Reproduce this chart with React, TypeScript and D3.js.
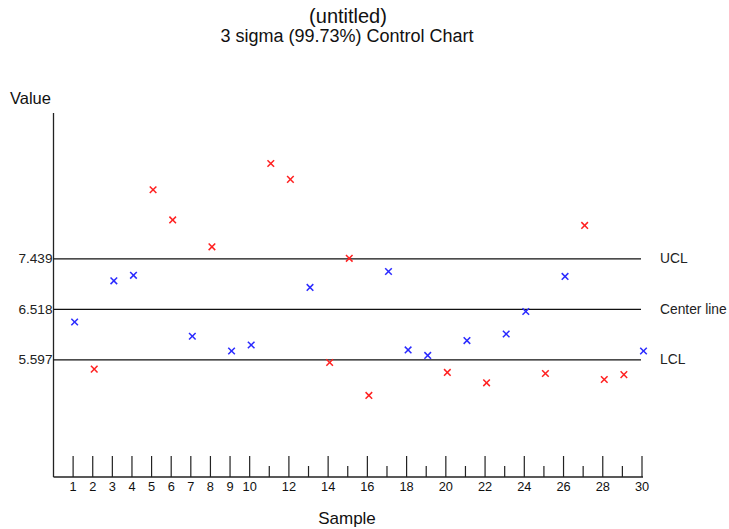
import React from 'react';
import * as d3 from 'd3';

// sample numbers and measured values
const samples = d3.range(1, 31);
const values = [
  6.29, 5.43, 7.04, 7.14, 8.70, 8.15, 6.03, 7.66, 5.76, 5.87,
  9.18, 8.89, 6.92, 5.55, 7.45, 4.95, 7.21, 5.78, 5.68, 5.37,
  5.95, 5.18, 6.07, 6.48, 5.35, 7.12, 8.05, 5.24, 5.33, 5.76,
];
// which samples are flagged (red) vs normal (blue)
const flagged = [
  0, 1, 0, 0, 1, 1, 0, 1, 0, 0,
  1, 1, 0, 1, 1, 1, 0, 0, 0, 1,
  0, 1, 0, 0, 1, 0, 1, 1, 1, 0,
];
const limitNames = ['UCL', 'Center line', 'LCL'];
const limitValues = [7.439, 6.518, 5.597];
const labelledTicks = [1, 2, 3, 4, 5, 6, 7, 8, 9, 10, 12, 14, 16, 18, 20, 22, 24, 26, 28, 30];
const yDomain = [3.463, 10.1];

export default function App() {
  const width = 729;
  const height = 529;
  const left = 53.5, right = 642, top = 113, bottom = 477;

  const x = d3.scaleLinear().domain([0, 30]).range([left, right]);
  const y = d3.scaleLinear().domain(yDomain).range([bottom, top]);

  const font = 'Arial, "Liberation Sans", sans-serif';
  const s = 3.3;

  return (
    <svg width={width} height={height} style={{ position: 'absolute', left: 0, top: 0 }} fontFamily={font}>
      <rect width={width} height={height} fill="#fff" />
      <text x={348} y={23} textAnchor="middle" fontSize={20} fill="#111">(untitled)</text>
      <text x={347} y={42} textAnchor="middle" fontSize={18} fill="#111">3 sigma (99.73%) Control Chart</text>
      <text x={10} y={104} fontSize={16.5} fill="#111">Value</text>
      <text x={347} y={524} textAnchor="middle" fontSize={17} fill="#111">Sample</text>

      {/* axes */}
      <line x1={left} x2={left} y1={top} y2={bottom} stroke="#222" strokeWidth={1.3} />
      <line x1={left} x2={right + 1} y1={bottom} y2={bottom} stroke="#222" strokeWidth={1.3} />

      {samples.map(d => {
        const major = labelledTicks.includes(d);
        return (
          <g key={d}>
            <line x1={x(d)} x2={x(d)} y1={bottom} y2={bottom - (major ? 21 : 11)} stroke="#222" strokeWidth={1.2} />
            {major && (
              <text x={x(d)} y={bottom + 14} textAnchor="middle" fontSize={12.8} fill="#111">{d}</text>
            )}
          </g>
        );
      })}

      {/* control limits */}
      {limitValues.map((v, i) => (
        <g key={limitNames[i]}>
          <line x1={left} x2={right - 1} y1={y(v)} y2={y(v)} stroke="#111" strokeWidth={1.3} />
          <text x={left - 1} y={y(v) + 4.5} textAnchor="end" fontSize={13.6} fill="#222">{v.toFixed(3)}</text>
          <text x={660} y={y(v) + 4.5} fontSize={13.8} fill="#222">{limitNames[i]}</text>
        </g>
      ))}

      {/* sample markers */}
      {values.map((v, i) => {
        const cx = x(samples[i]) + 1.5;
        const cy = y(v);
        const c = flagged[i] ? '#ff2020' : '#2a2aff';
        return (
          <g key={i} stroke={c} strokeWidth={1.5}>
            <line x1={cx - s} x2={cx + s} y1={cy - s} y2={cy + s} />
            <line x1={cx - s} x2={cx + s} y1={cy + s} y2={cy - s} />
          </g>
        );
      })}
    </svg>
  );
}
